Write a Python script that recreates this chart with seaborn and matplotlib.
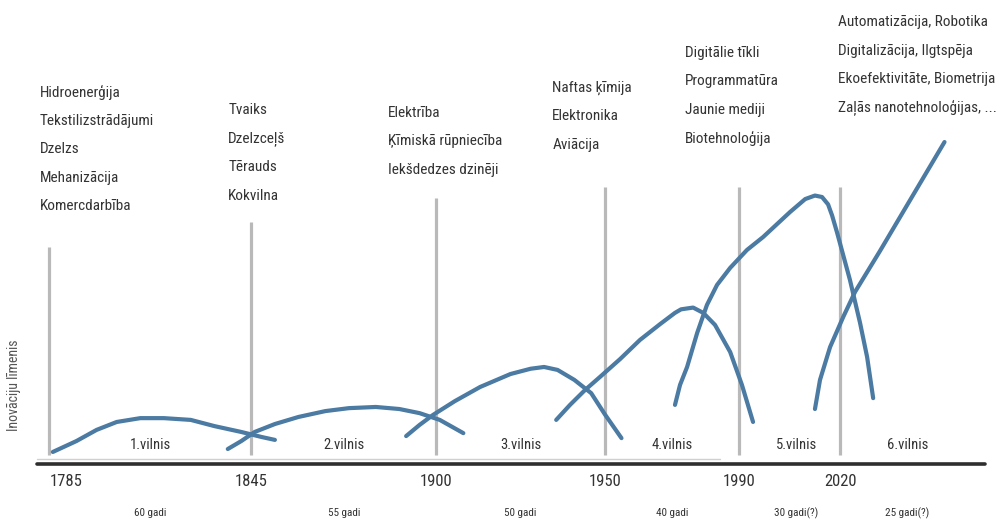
import numpy as np
import pandas as pd
import matplotlib
matplotlib.use("Agg")
import matplotlib.pyplot as plt
import seaborn as sns

# --- dati: inovāciju viļņi (gads, līmenis) ---
v1_gadi = [1786, 1793, 1799, 1805, 1812, 1819, 1827, 1834, 1842, 1848, 1852]
v1_limenis = [4.1, 7.8, 11.6, 14.3, 15.6, 15.6, 15.0, 12.9, 10.9, 9.2, 8.2]

v2_gadi = [1838, 1842, 1846, 1852, 1859, 1867, 1874, 1882, 1889, 1895, 1901, 1908]
v2_limenis = [5.1, 7.8, 10.9, 13.6, 16.0, 18.0, 19.0, 19.4, 18.7, 17.3, 15.0, 10.5]

v3_gadi = [1891, 1895, 1899, 1905.5, 1913, 1922, 1928, 1932, 1936, 1941, 1946, 1950, 1955]
v3_limenis = [9.5, 13.3, 16.7, 21.4, 26.2, 30.6, 32.4, 33.0, 32.0, 28.6, 24.1, 17.0, 8.8]

v4_gadi = [1935.6, 1939.7, 1944.2, 1948.6, 1954.6, 1960.5, 1966.5, 1970.9, 1972.7,
           1976.3, 1979.3, 1982.8, 1987.3, 1990.8, 1994.1]
v4_limenis = [15.0, 20.1, 25.2, 29.6, 35.7, 42.2, 47.6, 51.4, 52.6,
              53.2, 51.4, 47.3, 38.1, 26.9, 14.3]

v5_gadi = [1970.9, 1972.4, 1974.5, 1977.5, 1980.4, 1983.4, 1987.3, 1992.3, 1997.1, 2005.1,
           2009.6, 2012.5, 2014.6, 2016.4, 2017.6, 2019.1, 2022.9, 2025.9, 2028.0, 2029.8]
v5_limenis = [20.1, 26.9, 33.0, 44.6, 54.1, 60.9, 66.7, 72.8, 77.2, 85.7,
              90.1, 91.3, 90.8, 88.3, 84.5, 78.6, 62.6, 48.0, 36.4, 22.4]

v6_gadi = [2012.5, 2014.0, 2017.0, 2020.9, 2024.4, 2031.8, 2040.8, 2051.0]
v6_limenis = [18.7, 28.6, 39.8, 50.0, 58.5, 72.4, 89.8, 109.5]

robezas = [1785, 1845, 1900, 1950, 1990, 2020]
viļņi = ["1.vilnis", "2.vilnis", "3.vilnis", "4.vilnis", "5.vilnis", "6.vilnis"]
ilgums = ["60 gadi", "55 gadi", "50 gadi", "40 gadi", "30 gadi(?)", "25 gadi(?)"]

tehnologijas = [
    ["Hidroenerģija", "Tekstilizstrādājumi", "Dzelzs", "Mehanizācija", "Komercdarbība"],
    ["Tvaiks", "Dzelzceļš", "Tērauds", "Kokvilna"],
    ["Elektrība", "Ķīmiskā rūpniecība", "Iekšdedzes dzinēji"],
    ["Naftas ķīmija", "Elektronika", "Aviācija"],
    ["Digitālie tīkli", "Programmatūra", "Jaunie mediji", "Biotehnoloģija"],
    ["Automatizācija, Robotika", "Digitalizācija, Ilgtspēja",
     "Ekoefektivitāte, Biometrija", "Zaļās nanotehnoloģijas, ..."],
]

# izkārtojums (nav dati)
etikesu_x = [1815, 1872.5, 1925, 1970, 2007, 2040]
linijas_augsa = [73.8, 82.3, 90.5, 94.2, 94.2, 94.2]
teksta_x = [1782.2, 1838.1, 1885.6, 1934.4, 1973.9, 2019.4]
teksta_y = [126.5, 120.4, 119.4, 127.9, 139.8, 150.3]

ZILS = "#4b7aa2"
PELEKS = "#b9b9b9"
TEKSTS = "#333333"


def main():
    sns.set_theme(style="white")
    plt.rcParams["font.family"] = ["Roboto Condensed", "Liberation Sans Narrow",
                                   "DejaVu Sans Condensed", "DejaVu Sans"]

    df = pd.concat([
        pd.DataFrame({"gads": g, "limenis": l, "vilnis": n})
        for g, l, n in zip(
            [v1_gadi, v2_gadi, v3_gadi, v4_gadi, v5_gadi, v6_gadi],
            [v1_limenis, v2_limenis, v3_limenis, v4_limenis, v5_limenis, v6_limenis],
            viļņi)
    ], ignore_index=True)

    fig = plt.figure(figsize=(9.98, 5.29), dpi=100)
    ax = fig.add_axes([0, 0, 1, 1])
    ax.set_xlim(1770.3, 2066.9)
    ax.set_ylim(-22.1, 157.8)
    ax.axis("off")

    # vertikālās robežlīnijas
    for r, top in zip(robezas, linijas_augsa):
        ax.plot([r, r], [3.1, top], color=PELEKS, lw=2.3, zorder=1, solid_capstyle="butt")

    # laika ass
    ax.plot([1781.4, 1984.3], [1.7, 1.7], color="#d0d0d0", lw=1.0, zorder=1)
    ax.plot([1781.4, 2063.1], [0, 0], color="#2e2e2e", lw=2.6, zorder=2)

    sns.lineplot(data=df, x="gads", y="limenis", hue="vilnis", units="vilnis",
                 estimator=None, sort=False, palette=[ZILS] * 6, lw=3.0,
                 legend=False, ax=ax, zorder=3)
    ax.set_xlim(1770.3, 2066.9)
    ax.set_ylim(-22.1, 157.8)

    # gadu etiķetes
    for i, r in enumerate(robezas):
        ax.text(r, -5.8, str(r), ha="left" if i == 0 else "center", va="center",
                fontsize=12, color=TEKSTS)

    for x, v, d in zip(etikesu_x, viļņi, ilgums):
        ax.text(x, 6.5, v, ha="center", va="center", fontsize=10.5, color=TEKSTS)
        ax.text(x, -16.7, d, ha="center", va="center", fontsize=8, color=TEKSTS)

    for x, y, items in zip(teksta_x, teksta_y, tehnologijas):
        for j, t in enumerate(items):
            ax.text(x, y - j * 9.7, t, ha="left", va="center", fontsize=11, color=TEKSTS)

    ax.text(1774.5, 26.9, "Inovāciju līmenis", rotation=90, ha="center", va="center",
            fontsize=10, color="#555555")

    fig.savefig("out.png", dpi=100)


if __name__ == "__main__":
    main()
